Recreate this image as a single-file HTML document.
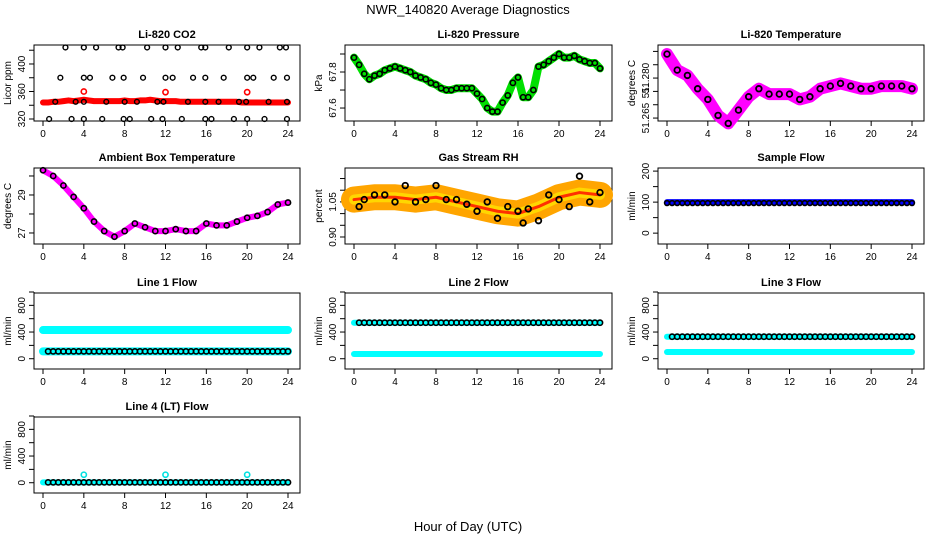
<!DOCTYPE html>
<html><head><meta charset="utf-8">
<style>
html,body{margin:0;padding:0;background:#fff;}
svg{display:block;font-family:"Liberation Sans",sans-serif;}
</style></head>
<body>
<svg id="c" width="936" height="540" viewBox="0 0 936 540">
<text x="468" y="14" text-anchor="middle" font-size="13">NWR_140820  Average Diagnostics</text>
<text x="468" y="531" text-anchor="middle" font-size="13">Hour of Day (UTC)</text>
</svg>
<script>
// ---- data ----
const hoursHalf = [0,0.5,1,1.5,2,2.5,3,3.5,4,4.5,5,5.5,6,6.5,7,7.5,8,8.5,9,9.5,10,10.5,11,11.5,12,12.5,13,13.5,14,14.5,15,15.5,16,16.5,17,17.5,18,18.5,19,19.5,20,20.5,21,21.5,22,22.5,23,23.5,24];
const hoursOne = [0,1,2,3,4,5,6,7,8,9,10,11,12,13,14,15,16,17,18,19,20,21,22,23,24];
const hoursTwo = [0,2,4,6,8,10,12,14,16,18,20,22,24];
const co2Red = [344,344,345,345,346,347,346,347,348,347,346,346,346,346,346,346,347,346,346,347,347,348,347,346,346,346,346,345,345,345,345,345,345,345,345,345,345,345,345,344,344,344,344,344,344,344,344,344,344];
const co2RedHiX = [4,12,20];
const co2RedHiY = [360,359,359];
const co2BlackX = [2.2,4,5.2,7.4,7.8,10.2,12,13.2,15.5,15.9,18.2,20,21.2,23.2,23.8, 1.7,4,4.6,6.8,7.9,9.8,12,12.7,14.7,15.9,17.7,20,20.6,22.6,23.9, 1.2,3.2,4,6.2,8,9.2,11.2,11.8,14.2,15.9,17.2,19.2,19.9,22.1,23.9, 0.6,2.8,4,5.8,7.9,8.5,10.6,11.7,13.6,15.9,16.5,18.7,20,21.7,23.9];
const co2BlackY = [424,424,424,424,424,424,424,424,424,424,424,424,424,424,424, 380,380,380,380,380,380,380,380,380,380,380,380,380,380,380, 345,345,345,345,345,345,345,345,345,345,345,345,345,345,345, 320,320,320,320,320,320,320,320,320,320,320,320,320,320,320];
const pressure = [67.88,67.84,67.79,67.76,67.78,67.79,67.81,67.82,67.83,67.82,67.81,67.80,67.78,67.77,67.76,67.74,67.73,67.71,67.70,67.70,67.71,67.71,67.71,67.71,67.68,67.65,67.60,67.58,67.58,67.63,67.67,67.74,67.77,67.66,67.66,67.70,67.83,67.84,67.86,67.88,67.90,67.88,67.88,67.89,67.87,67.86,67.85,67.85,67.82];
const liTemp = [51.289,51.283,51.281,51.276,51.272,51.266,51.263,51.268,51.273,51.276,51.274,51.274,51.274,51.272,51.273,51.276,51.277,51.278,51.277,51.276,51.276,51.277,51.277,51.277,51.276];
const ambient = [30.3,30.0,29.5,28.9,28.3,27.6,27.1,26.8,27.1,27.5,27.3,27.1,27.1,27.2,27.1,27.1,27.5,27.4,27.4,27.6,27.8,27.9,28.1,28.5,28.6];
const rhCenter = [1.06,1.07,1.07,1.06,1.07,1.05,1.03,1.01,1.00,1.03,1.07,1.09,1.08];
const rhBlackX = [0.5,1,2,3,4,5,6,7,8,9,10,11,12,13,14,15,16,16.5,17,18,19,20,21,22,23,24];
const rhBlackY = [1.03,1.06,1.08,1.08,1.05,1.12,1.05,1.06,1.12,1.06,1.06,1.04,1.01,1.05,0.98,1.03,1.01,0.96,1.02,0.97,1.08,1.06,1.03,1.16,1.05,1.09];
const sampleFlow = 100;
const sampleBlack = 97;
const line1Cyan = [430,110];
const line1Black = 110;
const line2Cyan = [540,70];
const line2Black = 540;
const line3Cyan = [330,100];
const line3Black = 330;
const line4Cyan = [5];
const line4Black = 5;
const line4BumpX = [4,12,20];
const line4BumpY = [120,120,120];
const xTicks = [0,4,8,12,16,20,24];

// ---- layout ----
const NS = "http://www.w3.org/2000/svg";
const svg = document.getElementById('c');
const cols = [[34,300],[345,612],[658,924]];
const rows = [45,168,293,417];
const H = 76;
function mk(tag, attrs, parent){const e=document.createElementNS(NS,tag);for(const k in attrs)e.setAttribute(k,attrs[k]);(parent||svg).appendChild(e);return e;}

function panel(col,row,cfg){
  const [L,R]=cols[col]; const T=rows[row]; const B=T+H;
  const g=mk('g',{});
  
  
  const xs=v=>L+9+(v/24)*(R-L-21);
  const ys=v=>T+(cfg.top-v)/(cfg.top-cfg.bot)*H;
  const box=mk('rect',{x:L,y:T,width:R-L,height:H,fill:'none',stroke:'#000','stroke-width':1},g);
  
  
  const t=mk('text',{x:(L+R)/2,y:T-7,'text-anchor':'middle','font-size':11,'font-weight':'bold'},g);
  t.textContent=cfg.title;
  
  
  xTicks.forEach(v=>{
    mk('line',{x1:xs(v),x2:xs(v),y1:B,y2:B+5,stroke:'#000'},g);
    const l=mk('text',{x:xs(v),y:B+16,'text-anchor':'middle','font-size':10},g);
    l.textContent=v;
    
    
  });
  mk('line',{x1:xs(0),x2:xs(24),y1:B,y2:B,stroke:'#000'},g);
  cfg.ticks.forEach(v=>{mk('line',{x1:L,x2:L-5,y1:ys(v),y2:ys(v),stroke:'#000'},g);});
  mk('line',{x1:L,x2:L,y1:ys(cfg.ticks[0]),y2:ys(cfg.ticks[cfg.ticks.length-1]),stroke:'#000'},g);
  cfg.labels.forEach(v=>{
    const y=ys(v);
    const l=mk('text',{x:L-9,y:y,'text-anchor':'middle','font-size':10,transform:`rotate(-90 ${L-9} ${y})`},g);
    l.textContent=cfg.fmt?cfg.fmt(v):v;
    
    
  });
  const yl=mk('text',{x:L-23,y:(T+B)/2,'text-anchor':'middle','font-size':10,transform:`rotate(-90 ${L-23} ${(T+B)/2})`},g);
  yl.textContent=cfg.ylab;
  
  
  const dg=mk('g',{},g);
  
  
  return {xs,ys,g:dg};
}
function line(p,X,Y,color,w){
  const pts=X.map((x,i)=>p.xs(x)+','+p.ys(Y[i])).join(' ');
  const e=mk('polyline',{points:pts,fill:'none',stroke:color,'stroke-width':w,'stroke-linejoin':'round','stroke-linecap':'round'},p.g);
  
  
}
function pts(p,X,Y,color,r,sw){
  X.forEach((x,i)=>{
    const e=mk('circle',{cx:p.xs(x),cy:p.ys(Y[i]),r:r||2.6,fill:'none',stroke:color,'stroke-width':sw||1.6},p.g);
    
    
  });
}
const flat=v=>hoursHalf.map(()=>v);

// CO2
let p=panel(0,0,{name:'co2',title:'Li-820 CO2',ylab:'Licor ppm',top:427.6,bot:317.1,ticks:[320,340,360,380,400,420],labels:[320,360,400]});
line(p,hoursHalf,co2Red,'#ff0000',6);
pts(p,co2RedHiX,co2RedHiY,'#ff0000');
pts(p,co2BlackX,co2BlackY,'#000',2.4,1.4);

// Pressure
p=panel(1,0,{name:'pressure',title:'Li-820 Pressure',ylab:'kPa',top:67.95,bot:67.528,ticks:[67.6,67.7,67.8,67.9],labels:[67.6,67.8],fmt:v=>v.toFixed(1)});
line(p,hoursHalf,pressure,'#00e000',8);
pts(p,hoursHalf,pressure,'#000',2.6,1.6);

// Li temp
p=panel(2,0,{name:'li-temperature',title:'Li-820 Temperature',ylab:'degrees C',top:51.2924,bot:51.2639,ticks:[51.265,51.27,51.275,51.28,51.285,51.29],labels:[51.265,51.275,51.28],fmt:v=>v===51.275?'51.':v.toFixed(3)});
line(p,hoursOne,liTemp,'#ff00ff',12);
pts(p,hoursOne,liTemp,'#000',2.8,1.8);

// Ambient
p=panel(0,1,{name:'ambient-temperature',title:'Ambient Box Temperature',ylab:'degrees C',top:30.42,bot:26.42,ticks:[27,28,29,30],labels:[27,29]});
line(p,hoursOne,ambient,'#ff00ff',6);
pts(p,hoursOne,ambient,'#000',2.6,1.6);

// RH
p=panel(1,1,{name:'gas-stream-rh',title:'Gas Stream RH',ylab:'percent',top:1.195,bot:0.87,ticks:[0.9,0.95,1.0,1.05,1.1,1.15],labels:[0.9,1.05],fmt:v=>v.toFixed(2)});
line(p,hoursTwo,rhCenter,'#ffa500',26);
line(p,hoursTwo,rhCenter,'#ffd700',10);
line(p,hoursTwo,rhCenter,'#ff3000',3);
pts(p,rhBlackX,rhBlackY,'#000',2.8,1.8);

// Sample flow
p=panel(2,1,{name:'sample-flow',title:'Sample Flow',ylab:'ml/min',top:210,bot:-35,ticks:[0,50,100,150,200],labels:[0,100,200]});
line(p,hoursHalf,flat(sampleFlow),'#0000ff',6);
pts(p,hoursHalf,flat(sampleBlack),'#000',2.4,1.6);

const fl={top:985,bot:-154,ticks:[0,200,400,600,800,1000],labels:[0,400,800]};
// Line 1
p=panel(0,2,Object.assign({name:'line-1-flow',title:'Line 1 Flow',ylab:'ml/min'},fl));
line1Cyan.forEach(v=>line(p,hoursHalf,flat(v),'#00ffff',8));
pts(p,hoursHalf.slice(1),flat(line1Black).slice(1),'#000',2.6,1.6);
// Line 2
p=panel(1,2,Object.assign({name:'line-2-flow',title:'Line 2 Flow',ylab:'ml/min'},fl));
line2Cyan.forEach(v=>line(p,hoursHalf,flat(v),'#00ffff',6));
pts(p,hoursHalf.slice(1),flat(line2Black).slice(1),'#000',2.6,1.6);
// Line 3
p=panel(2,2,Object.assign({name:'line-3-flow',title:'Line 3 Flow',ylab:'ml/min'},fl));
line3Cyan.forEach(v=>line(p,hoursHalf,flat(v),'#00ffff',6));
pts(p,hoursHalf.slice(1),flat(line3Black).slice(1),'#000',2.6,1.6);
// Line 4
p=panel(0,3,Object.assign({name:'line-4-flow',title:'Line 4 (LT) Flow',ylab:'ml/min'},fl));
line4Cyan.forEach(v=>line(p,hoursHalf,flat(v),'#00ffff',6));
pts(p,line4BumpX,line4BumpY,'#00e0e0',2.6,1.6);
pts(p,hoursHalf.slice(1),flat(line4Black).slice(1),'#000',2.6,1.6);
</script>
</body></html>
